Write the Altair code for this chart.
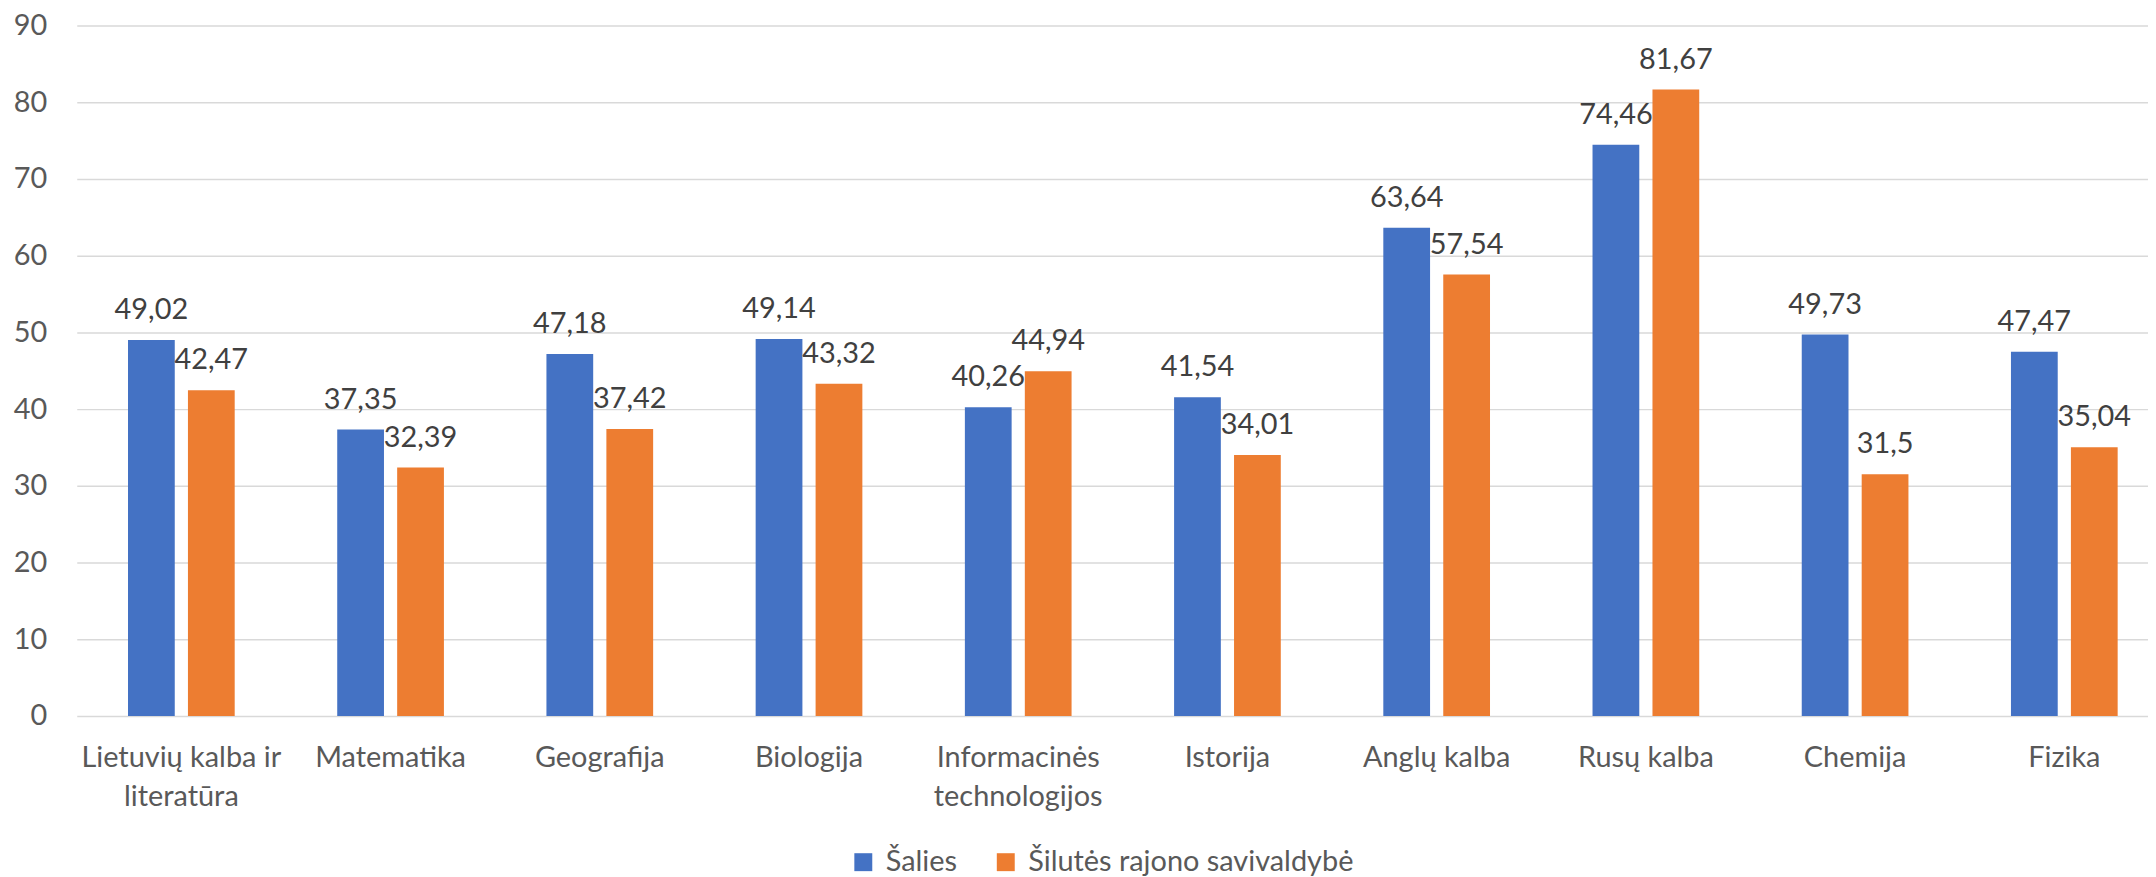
import altair as alt
import pandas as pd

subjects = ["Lietuvių kalba ir\nliteratūra", "Matematika", "Geografija", "Biologija",
            "Informacinės\ntechnologijos", "Istorija", "Anglų kalba", "Rusų kalba",
            "Chemija", "Fizika"]
series = ["Šalies", "Šilutės rajono savivaldybė"]
salies = [49.02, 37.35, 47.18, 49.14, 40.26, 41.54, 63.64, 74.46, 49.73, 47.47]
silutes = [42.47, 32.39, 37.42, 43.32, 44.94, 34.01, 57.54, 81.67, 31.5, 35.04]
colors = ["#4472C4", "#ED7D31"]
y_ticks = [0, 10, 20, 30, 40, 50, 60, 70, 80, 90]

rows = []
for i, s in enumerate(subjects):
    for name, vals in zip(series, [salies, silutes]):
        rows.append({"subject": s, "series": name, "value": vals[i],
                     "label": f"{vals[i]:g}".replace(".", ",")})
df = pd.DataFrame(rows)

FONT = "Lato"
FS = 29

x = alt.X("subject:N", sort=subjects,
          scale=alt.Scale(range=[0, 2100], paddingInner=0.49, paddingOuter=0.245),
          axis=alt.Axis(title=None, labelExpr="split(datum.label, '\\n')", labelAngle=0,
                        labelPadding=28, labelLineHeight=38.5, labelFontSize=FS,
                        labelFont=FONT, labelColor="#595959", labelLimit=600,
                        ticks=False, domain=False, grid=False))
y = alt.Y("value:Q", scale=alt.Scale(domain=[0, 90]),
          axis=alt.Axis(values=y_ticks, title=None, labelPadding=30, labelFontSize=FS,
                        labelFont=FONT, labelColor="#595959", gridColor="#D9D9D9",
                        gridWidth=1.5, ticks=False, domain=False))
xoff = alt.XOffset("series:N", sort=series, scale=alt.Scale(paddingInner=0.22))
color = alt.Color("series:N", sort=series, scale=alt.Scale(domain=series, range=colors),
                  legend=alt.Legend(title=None, orient="none", legendX=775, legendY=825,
                                    direction="horizontal", symbolType="square",
                                    symbolSize=324, symbolStrokeWidth=0, symbolOpacity=1,
                                    labelFontSize=FS, labelFont=FONT, labelColor="#595959",
                                    labelOffset=8, columnPadding=34, padding=0,
                                    labelLimit=800))

base = alt.Chart(df)
bars = base.mark_bar().encode(x=x, xOffset=xoff, y=y, color=color)
text = base.mark_text(baseline="alphabetic", dy=-21, fontSize=FS, font=FONT,
                      color="#404040").encode(x=x, xOffset=xoff, y=y, text="label:N")

chart = alt.layer(bars, text).properties(
    width=2079, height=693,
    autosize=alt.AutoSizeParams(type="none"),
    padding={"left": 69, "top": 16, "right": 0, "bottom": 160},
).configure_view(stroke=None)

chart.save("out.html", embed_options={"renderer": "svg", "actions": False})
